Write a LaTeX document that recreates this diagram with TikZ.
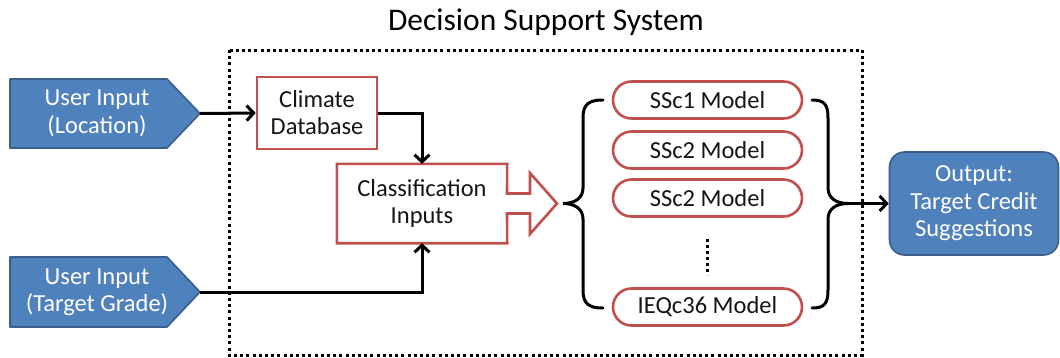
\documentclass[tikz,border=0pt]{standalone}
\usepackage{fontspec}
\setmainfont{Carlito}
\usetikzlibrary{arrows.meta,shapes.misc}
\definecolor{boxblue}{HTML}{4F81BD}
\definecolor{edgeblue}{HTML}{3A5F8B}
\definecolor{boxred}{HTML}{C0504D}
\definecolor{ink}{HTML}{151515}
\tikzset{
  bodytext/.style={font=\fontsize{24.5}{27}\selectfont, align=center, text=ink},
  whitetext/.style={font=\fontsize{24.5}{27.5}\selectfont, align=center, text=white},
  bluefill/.style={fill=boxblue, draw=edgeblue, line width=1.6pt, line join=round},
  redbox/.style={draw=boxred, line width=2.6pt, fill=white},
  model/.style={rounded rectangle, draw=boxred, line width=2.6pt, fill=white,
    minimum width=189pt, minimum height=37pt, inner sep=0pt,
    font=\fontsize{24.5}{27}\selectfont, text=ink},
  arr/.style={draw=black, line width=3pt, -{Straight Barb[length=7pt,width=15pt]}},
  brace/.style={draw=black, line width=3pt, line cap=round},
  frame/.style={draw=black, line width=3pt, dash pattern=on 3pt off 3.2pt},
}
\begin{document}
\begin{tikzpicture}[x=1pt,y=-1pt]
\useasboundingbox (0,0) rectangle (1060,357);

% title and the dotted system boundary
\node[font=\fontsize{31.5}{36}\selectfont, text=black] (title) at (546,22) {Decision Support System};
\draw[frame] (229,50) rectangle (862,355);

% user inputs (pentagon arrows)
\fill[bluefill] (10,79) -- (167,79) -- (200,113.5) -- (167,148) -- (10,148) -- cycle;
\coordinate (locTip) at (200,113.5);
\node[whitetext] (loc) at (97,113.5) {User Input\\(Location)};

\fill[bluefill] (10,257) -- (167,257) -- (200,292) -- (167,327) -- (10,327) -- cycle;
\coordinate (gradeTip) at (200,292);
\node[whitetext] (grade) at (97,292) {User Input\\(Target Grade)};

% climate database
\node[redbox, bodytext, minimum width=120pt, minimum height=72pt, inner sep=0pt] (climate) at (317,113) {Climate\\Database};

% classification inputs with its block arrow
\node[bodytext, minimum width=170pt, minimum height=79pt, inner sep=0pt] (cls) at (422,203.5) {};
\draw[boxred, line width=2.6pt, line join=miter, fill=white]
  (cls.north west) -- (cls.north east) -- (507,193.5) -- (530,193.5) -- (530,173)
  -- (557,203.5) -- (530,234) -- (530,213.5) -- (507,213.5) -- (cls.south east)
  -- (cls.south west) -- cycle;
\node[bodytext] at (cls.center) {Classification\\Inputs};
\coordinate (clsTip) at (557,203.5);

% connectors into the classifier
\draw[arr] (locTip) -- (climate.west);
\draw[arr] (climate.east) -| (cls.north);
\draw[arr] (gradeTip) -| (cls.south);

% credit models
\node[model] (m1) at (707.5,100) {SSc1 Model};
\node[model] (m2) at (707.5,150) {SSc2 Model};
\node[model] (m3) at (707.5,198) {SSc2 Model};
\node[model] (m4) at (707.5,307) {IEQc36 Model};
\coordinate (dotTop) at (707.5,239);
\coordinate (dotBot) at (707.5,275);
\draw[draw=black, line width=3.2pt, dash pattern=on 3pt off 3pt] (dotTop) -- (dotBot);

% braces around the models
\coordinate (lbTip) at (563,203.5);
\coordinate (rbTip) at (848,203.5);
\draw[brace] (603,100) .. controls (589,100) and (583,104) .. (583,118) -- (583,188)
  .. controls (583,198) and (575,203.5) .. (lbTip)
  .. controls (575,203.5) and (583,209) .. (583,219) -- (583,290)
  .. controls (583,304) and (589,308) .. (603,308);
\draw[brace] (812,100) .. controls (824,100) and (828,104) .. (828,118) -- (828,188)
  .. controls (828,198) and (836,203.5) .. (rbTip)
  .. controls (836,203.5) and (828,209) .. (828,219) -- (828,290)
  .. controls (828,304) and (824,308) .. (812,308);

% output
\node[bluefill, whitetext, rounded corners=15pt, minimum width=169pt, minimum height=103pt, inner sep=0pt] (out) at (974,203.5) {Output:\\Target Credit\\Suggestions};
\draw[arr] (rbTip) -- (out.west);
\end{tikzpicture}
\end{document}
